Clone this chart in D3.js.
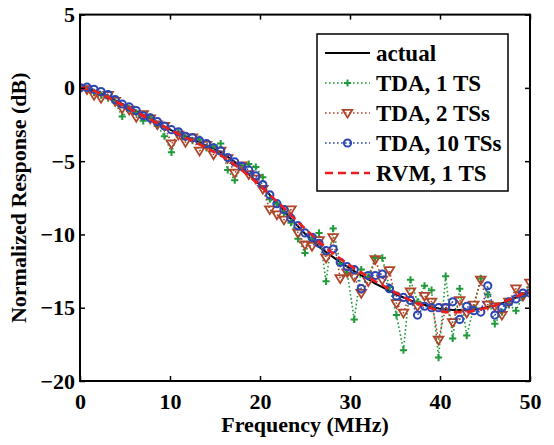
<!DOCTYPE html>
<html>
<head>
<meta charset="utf-8">
<script src="https://cdn.jsdelivr.net/npm/d3@7"></script>
<style>
  html, body { margin: 0; padding: 0; background: #fff; }
  svg { display: block; font-family: "Liberation Serif", "Times New Roman", serif; font-weight: bold; }
</style>
</head>
<body>
<div id="chart"></div>
<script>
// frequency grid (MHz)
var freq = [0, 0.78, 1.56, 2.34, 3.13, 3.91, 4.69, 5.47, 6.25, 7.03, 7.81, 8.59, 9.38, 10.16, 10.94, 11.72,
  12.5, 13.28, 14.06, 14.84, 15.63, 16.41, 17.19, 17.97, 18.75, 19.53, 20.31, 21.09, 21.88, 22.66, 23.44, 24.22,
  25, 25.78, 26.56, 27.34, 28.13, 28.91, 29.69, 30.47, 31.25, 32.03, 32.81, 33.59, 34.38, 35.16, 35.94, 36.72,
  37.5, 38.28, 39.06, 39.84, 40.63, 41.41, 42.19, 42.97, 43.75, 44.53, 45.31, 46.09, 46.88, 47.66, 48.44, 49.22, 50];

var actual = [0, -0.08, -0.2, -0.38, -0.6, -0.85, -1.1, -1.35, -1.6, -1.85, -2.1, -2.4, -2.65, -2.9, -3.1, -3.3,
  -3.5, -3.7, -3.95, -4.15, -4.4, -4.7, -5.05, -5.45, -5.9, -6.35, -6.8, -7.3, -7.8, -8.4, -8.95, -9.45,
  -9.95, -10.4, -10.85, -11.2, -11.55, -11.9, -12.2, -12.5, -12.8, -13.05, -13.35, -13.6, -13.85, -14.1, -14.3, -14.5,
  -14.65, -14.8, -14.95, -15.05, -15.1, -15.15, -15.15, -15.15, -15.1, -15.05, -14.95, -14.85, -14.7, -14.5, -14.3, -14.1, -14.0];

var tda1 = [0, -0.1, -0.3, -0.5, -0.7, -1.0, -1.95, -1.4, -1.7, -2.25, -2.0, -2.6, -3.3, -4.4, -3.0, -3.4,
  -3.6, -3.5, -4.1, -4.0, -3.8, -5.6, -6.3, -5.3, -5.2, -5.4, -6.1, -7.6, -7.9, -8.5, -9.2, -10.3,
  -11.26, -10.3, -9.9, -13.2, -9.6, -12.0, -12.6, -15.8, -12.4, -12.9, -11.6, -11.6, -13.6, -15.5, -17.9, -13.1,
  -14.6, -13.5, -13.8, -18.4, -12.85, -17.1, -13.7, -16.9, -15.0, -13.0, -14.1, -16.1, -15.3, -14.8, -15.2, -14.2, -13.6];

var tda2 = [0, -0.1, -0.5, -0.7, -0.5, -0.9, -1.4, -1.5, -2.0, -1.8, -2.1, -2.5, -2.6, -3.8, -3.2, -3.7,
  -3.4, -4.3, -3.9, -4.55, -4.3, -4.8, -5.8, -5.3, -5.9, -6.2, -6.9, -8.3, -8.65, -9.0, -8.3, -9.9,
  -10.7, -10.8, -10.4, -11.6, -10.2, -13.0, -12.6, -12.9, -14.0, -13.2, -11.7, -13.1, -12.45, -14.7, -15.35, -13.9,
  -14.9, -14.2, -14.6, -17.2, -15.0, -16.0, -14.5, -15.35, -14.8, -13.1, -14.8, -14.9, -15.5, -14.6, -13.7, -14.2, -13.3];

var tda10 = [0, 0.05, -0.1, -0.25, -0.45, -0.8, -1.1, -1.3, -1.55, -1.9, -2.05, -2.3, -2.6, -2.85, -3.0, -3.3,
  -3.4, -3.6, -3.8, -4.1, -4.3, -4.75, -5.05, -5.35, -5.6, -6.0, -6.6, -7.3, -7.9, -8.3, -8.9, -9.4,
  -9.9, -10.2, -10.6, -11.1, -11.0, -11.9, -12.2, -12.4, -13.7, -12.8, -12.8, -12.7, -13.7, -14.2, -14.3, -14.5,
  -15.5, -14.9, -15.0, -15.0, -15.0, -14.6, -15.8, -14.9, -15.2, -15.3, -13.5, -15.5, -15.0, -14.6, -14.4, -14.0, -14.0];

var rvm = [0, -0.05, -0.2, -0.4, -0.65, -0.9, -1.15, -1.4, -1.65, -1.9, -2.15, -2.4, -2.65, -2.9, -3.15, -3.4,
  -3.6, -3.85, -4.1, -4.35, -4.6, -4.9, -5.25, -5.6, -6.0, -6.4, -6.85, -7.3, -7.75, -8.2, -8.7, -9.15,
  -9.6, -10.05, -10.5, -10.9, -11.3, -11.65, -12.0, -12.3, -12.6, -12.9, -13.2, -13.45, -13.75, -14.0, -14.25, -14.5,
  -14.7, -14.9, -15.05, -15.2, -15.3, -15.3, -15.3, -15.3, -15.2, -15.1, -15.0, -14.85, -14.65, -14.45, -14.25, -14.05, -13.85];

var xTicks = [0, 10, 20, 30, 40, 50];
var yTicks = [5, 0, -5, -10, -15, -20];
var legendLabels = ['actual', 'TDA, 1 TS', 'TDA, 2 TSs', 'TDA, 10 TSs', 'RVM, 1 TS'];

var W = 554, H = 445;
var M = { left: 80, right: 24, top: 14.6, bottom: 64 };

var svg = d3.select('#chart').append('svg').attr('width', W).attr('height', H);

var x = d3.scaleLinear().domain([0, 50]).range([M.left, W - M.right]);
var y = d3.scaleLinear().domain([-20, 5]).range([H - M.bottom, M.top]);

var series = [
  { name: legendLabels[0], values: actual, color: '#000000', width: 2, dash: null, marker: null },
  { name: legendLabels[1], values: tda1, color: '#1f9a3a', width: 1.6, dash: '1.6,2.4', marker: 'plus' },
  { name: legendLabels[2], values: tda2, color: '#b0452a', width: 1.6, dash: '1.6,2.4', marker: 'tri' },
  { name: legendLabels[3], values: tda10, color: '#2b45b5', width: 1.6, dash: '1.6,2.4', marker: 'circle' },
  { name: legendLabels[4], values: rvm, color: '#ee1c1c', width: 2.6, dash: '8,5', marker: null }
];

var clip = svg.append('defs').append('clipPath').attr('id', 'plotclip')
  .append('rect').attr('x', M.left).attr('y', M.top)
  .attr('width', x(50) - M.left).attr('height', y(-20) - M.top);

var line = d3.line().x(function (d) { return x(d[0]); }).y(function (d) { return y(d[1]); });

function drawMarker(sel, kind, color) {
  if (kind === 'plus') {
    sel.append('path').attr('d', 'M-3.6,0H3.6M0,-3.6V3.6')
      .attr('stroke', color).attr('stroke-width', 2).attr('fill', 'none');
  } else if (kind === 'tri') {
    sel.append('path').attr('d', 'M-4.8,-3.2L4.8,-3.2L0,4.6Z')
      .attr('stroke', color).attr('stroke-width', 1.8).attr('fill', 'none');
  } else if (kind === 'circle') {
    sel.append('circle').attr('r', 3.6)
      .attr('stroke', color).attr('stroke-width', 2).attr('fill', 'none');
  }
}

var plot = svg.append('g').attr('clip-path', 'url(#plotclip)');

series.forEach(function (s) {
  var pts = freq.map(function (f, i) { return [f, s.values[i]]; });
  var g = plot.append('g');
  g.append('path').datum(pts).attr('d', line)
    .attr('fill', 'none').attr('stroke', s.color).attr('stroke-width', s.width)
    .attr('stroke-dasharray', s.dash).attr('stroke-linejoin', 'round');
  if (s.marker) {
    g.selectAll('g.m').data(pts).join('g').attr('class', 'm')
      .attr('transform', function (d) { return 'translate(' + x(d[0]) + ',' + y(d[1]) + ')'; })
      .each(function () { drawMarker(d3.select(this), s.marker, s.color); });
  }
});

// axes: inward ticks on all four sides
var tickLen = 5;
svg.append('g').attr('transform', 'translate(0,' + y(-20) + ')')
  .call(d3.axisBottom(x).tickValues(xTicks).tickSize(-tickLen).tickPadding(12).tickFormat(d3.format('d')))
  .call(function (g) { g.select('.domain').remove(); });
svg.append('g').attr('transform', 'translate(0,' + y(5) + ')')
  .call(d3.axisTop(x).tickValues(xTicks).tickSize(-tickLen).tickFormat(''))
  .call(function (g) { g.select('.domain').remove(); });
svg.append('g').attr('transform', 'translate(' + x(0) + ',0)')
  .call(d3.axisLeft(y).tickValues(yTicks).tickSize(-tickLen).tickPadding(5).tickFormat(d3.format('d')))
  .call(function (g) { g.select('.domain').remove(); });
svg.append('g').attr('transform', 'translate(' + x(50) + ',0)')
  .call(d3.axisRight(y).tickValues(yTicks).tickSize(-tickLen).tickFormat(''))
  .call(function (g) { g.select('.domain').remove(); });

svg.selectAll('.tick line').attr('stroke', '#000').attr('stroke-width', 1.5);
svg.selectAll('.tick text').attr('fill', '#000')
  .style('font-size', '22px').style('font-family', '"Liberation Serif", serif').style('font-weight', 'bold');

// frame
svg.append('rect').attr('x', x(0)).attr('y', y(5))
  .attr('width', x(50) - x(0)).attr('height', y(-20) - y(5))
  .attr('fill', 'none').attr('stroke', '#000').attr('stroke-width', 2);

// axis labels
svg.append('text').attr('x', (x(0) + x(50)) / 2).attr('y', 432)
  .attr('text-anchor', 'middle').style('font-size', '22px').text('Frequency (MHz)');
svg.append('text').attr('transform', 'translate(26,' + ((y(5) + y(-20)) / 2) + ') rotate(-90)')
  .attr('text-anchor', 'middle').style('font-size', '22px').text('Normalized Response (dB)');

// legend
var lg = svg.append('g');
lg.append('rect').attr('x', 317).attr('y', 34).attr('width', 191).attr('height', 157)
  .attr('fill', '#fff').attr('stroke', '#000').attr('stroke-width', 1.5);
series.forEach(function (s, i) {
  var cy = 53 + i * 30;
  lg.append('line').attr('x1', 325).attr('x2', 370).attr('y1', cy).attr('y2', cy)
    .attr('stroke', s.color).attr('stroke-width', s.width).attr('stroke-dasharray', s.dash);
  if (s.marker) drawMarker(lg.append('g').attr('transform', 'translate(347.5,' + cy + ')'), s.marker, s.color);
  lg.append('text').attr('x', 376).attr('y', cy).attr('dy', '0.35em')
    .style('font-size', '23px').text(s.name);
});
</script>
</body>
</html>
